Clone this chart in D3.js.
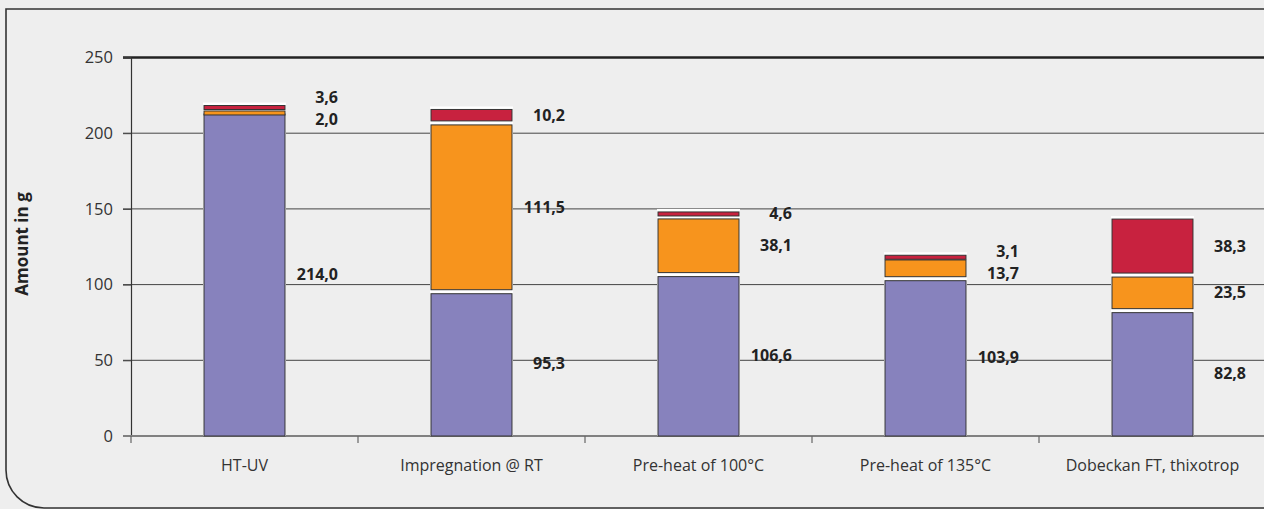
<!DOCTYPE html>
<html>
<head>
<meta charset="utf-8">
<script src="https://cdn.jsdelivr.net/npm/d3@7/dist/d3.min.js"></script>
<style>
  html, body { margin: 0; padding: 0; background: #eeeeee; }
  svg { display: block; font-family: "Open Sans", "Noto Sans", sans-serif; }
</style>
</head>
<body>
<svg id="chart" width="1264" height="509"></svg>
<script>
// Categories and stacked series (amounts in g)
const categories = ["HT-UV", "Impregnation @ RT", "Pre-heat of 100°C", "Pre-heat of 135°C", "Dobeckan FT, thixotrop"];
const seriesNames = ["base", "middle", "top"];
const baseValues   = [214.0, 95.3, 106.6, 103.9, 82.8];
const middleValues = [2.0, 111.5, 38.1, 13.7, 23.5];
const topValues    = [3.6, 10.2, 4.6, 3.1, 38.3];
const yTicks = [0, 50, 100, 150, 200, 250];
const yTitle = "Amount in g";
const seriesColors = ["#8782bd", "#f7941d", "#c8223f"];

const rows = categories.map((c, i) => ({
  cat: c, base: baseValues[i], middle: middleValues[i], top: topValues[i]
}));

const svg = d3.select("#chart");
const W = 1264, H = 509;
const plot = { left: 131, right: 1266, top: 57.5, bottom: 436 };

// Frame with rounded lower-left corner
svg.append("path")
  .attr("d", `M${W + 2},9 H6 V470 A38,38 0 0 0 44,508 H${W + 2}`)
  .attr("fill", "none").attr("stroke", "#333").attr("stroke-width", 1.6);

const x = d3.scaleBand().domain(categories).range([plot.left, plot.right]);
const y = d3.scaleLinear().domain([0, 250]).range([plot.bottom, plot.top]);
const fmt = v => d3.format(".1f")(v).replace(".", ",");

// Horizontal gridlines
const grid = svg.append("g");
grid.selectAll("line").data(yTicks.filter(t => t > 0)).join("line")
  .attr("x1", plot.left - 8).attr("x2", W)
  .attr("y1", d => y(d)).attr("y2", d => y(d))
  .attr("stroke", d => d === 250 ? "#222" : "#444")
  .attr("stroke-width", d => d === 250 ? 2.6 : 1);

// Y axis
const yAxis = svg.append("g")
  .attr("transform", `translate(${plot.left},0)`)
  .call(d3.axisLeft(y).tickValues(yTicks).tickSize(8).tickPadding(10));
yAxis.select(".domain").attr("stroke", "#333").attr("stroke-width", 1.2);
yAxis.selectAll(".tick line").attr("stroke", "#444");
yAxis.selectAll(".tick text").attr("font-size", 16.5).attr("fill", "#333")
  .style("font-family", "'Open Sans', sans-serif");

// Baseline and category ticks
const xAxis = svg.append("g")
  .attr("transform", `translate(0,${plot.bottom})`)
  .call(d3.axisBottom(x).tickSize(0).tickPadding(24));
xAxis.select(".domain").remove();
xAxis.selectAll(".tick text").attr("font-size", 16).attr("fill", "#333")
  .style("font-family", "'Open Sans', sans-serif");
svg.append("line")
  .attr("x1", plot.left - 8).attr("x2", W)
  .attr("y1", plot.bottom).attr("y2", plot.bottom)
  .attr("stroke", "#808080").attr("stroke-width", 2);
svg.append("g").selectAll("line")
  .data(categories.map(c => x(c)).concat([plot.right])).join("line")
  .attr("x1", d => d).attr("x2", d => d)
  .attr("y1", plot.bottom).attr("y2", plot.bottom + 7)
  .attr("stroke", "#666").attr("stroke-width", 1.2);

// Y title
svg.append("text")
  .attr("transform", `translate(28,244) rotate(-90)`)
  .attr("text-anchor", "middle").attr("font-size", 17).attr("font-weight", "bold")
  .attr("fill", "#222").text(yTitle);

// Stacked bars
const stack = d3.stack().keys(seriesNames)(rows);
const barW = 81;
const barX = c => x(c) + x.bandwidth() / 2 - barW / 2;
const gap = 2;

const bars = svg.append("g");
// white backing that shows between segments
bars.selectAll("rect.back").data(rows).join("rect")
  .attr("class", "back")
  .attr("x", d => barX(d.cat) - 1).attr("width", barW + 2)
  .attr("y", d => y(d.base + d.middle + d.top) - 1)
  .attr("height", d => y(0) - y(d.base + d.middle + d.top) + 1)
  .attr("fill", "#ffffff");

stack.forEach((layer, li) => {
  bars.append("g").selectAll("rect").data(layer).join("rect")
    .attr("x", d => barX(d.data.cat))
    .attr("width", barW)
    .attr("y", d => y(d[1]) + gap)
    .attr("height", d => Math.max(4, y(d[0]) - y(d[1]) - gap * (li === 0 ? 1 : 2)))
    .attr("fill", seriesColors[li])
    .attr("stroke", "#333").attr("stroke-width", 1);
});

// Value labels, placed at segment mid-heights and spread apart when crowded
const labels = svg.append("g").attr("font-size", 16).attr("font-weight", "bold").attr("fill", "#222");
rows.forEach((r, i) => {
  const items = stack.map(layer => ({
    v: layer[i][1] - layer[i][0],
    yy: y((layer[i][0] + layer[i][1]) / 2)
  })).sort((a, b) => b.yy - a.yy); // bottom to top
  const minSep = 22;
  for (let k = 0; k < 20; k++) {
    for (let j = 1; j < items.length; j++) {
      const diff = items[j - 1].yy - items[j].yy;
      if (diff < minSep) {
        const push = (minSep - diff) / 2;
        items[j - 1].yy += push;
        items[j].yy -= push;
      }
    }
  }
  items.forEach(it => {
    labels.append("text")
      .attr("x", barX(r.cat) + barW + 53)
      .attr("y", it.yy)
      .attr("dy", "0.35em")
      .attr("text-anchor", "end")
      .text(fmt(it.v));
  });
});
</script>
</body>
</html>
